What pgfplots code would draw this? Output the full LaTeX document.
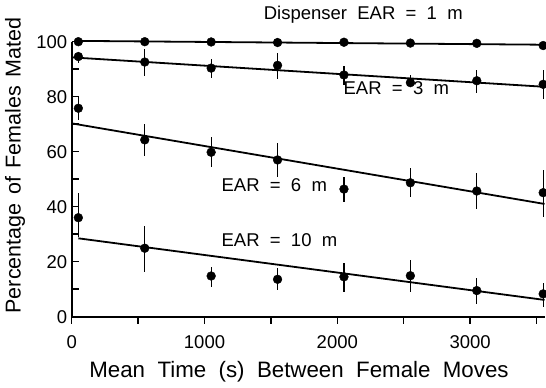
\documentclass[border=0pt]{standalone}
\usepackage{fontspec}
\setmainfont{Liberation Sans}[WordSpace=2]
\usepackage{pgfplots}
\pgfplotsset{compat=1.18}
\pgfplotstableread{
x y ep em
50 94.6 1.8 2.5
550 92.6 4.6 5.1
1050 90.4 3.2 3.5
1550 91.4 4.6 5.1
2050 87.9 3.3 3.6
2550 85.1 2.8 1.7
3050 85.8 3.9 4.3
3550 84.5 5.2 5.4
}\earthree
\pgfplotstableread{
x y ep em
50 75.8 4.2 4.3
550 64.3 5.7 5.9
1050 59.8 5.7 5.3
1550 57.0 6.3 6.3
2050 46.4 4.5 4.6
2550 48.7 5.3 5.1
3050 45.7 6.7 6.7
3550 45.1 8.2 8.7
}\earsix
\pgfplotstableread{
x y ep em
50 36.0 8.8 7.0
550 24.9 8.1 8.5
1050 14.8 3.4 3.9
1550 13.6 4.0 3.9
2050 14.5 5.1 5.4
2550 14.9 5.7 5.8
3050 9.5 4.5 4.9
3550 8.3 4.1 4.7
}\earten
\pgfplotstableread{
x y
50 100.0
550 100.0
1050 99.9
1550 99.7
2050 99.8
2550 99.5
3050 99.4
3550 98.6
}\earone
\begin{document}
\begin{tikzpicture}[x=1pt,y=1pt]
\useasboundingbox (0,0) rectangle (546,388);
\begin{axis}[
  at={(71.7pt,71.3pt)}, anchor=origin,
  scale only axis, width=472.8pt, height=275pt,
  xmin=0, xmax=3560, ymin=0, ymax=100,
  axis lines*=left,
  axis line style={line width=1.8pt},
  xtick={0,1000,2000,3000}, minor xtick={500,1500,2500,3500},
  ytick={0,20,...,100}, minor ytick={10,30,...,90},
  xtick align=outside, ytick align=inside,
  major tick length=7pt, minor tick length=7pt,
  every tick/.style={line width=1.5pt, black},
  tick label style={font=\fontsize{18.5}{20}\selectfont},
  xticklabel style={yshift=-8pt},
  yticklabel style={xshift=-1pt},
  /pgf/number format/assume math mode=true,
  /pgf/number format/1000 sep={},
  clip=false,
]
\addplot[black, line width=1.8pt] coordinates {(30,100.3) (3560,98.9)};
\addplot[black, line width=1.8pt] coordinates {(0,94.3) (3560,83.6)};
\addplot[black, line width=1.8pt] coordinates {(0,70.3) (3560,41.0)};
\addplot[black, line width=1.8pt] coordinates {(50,28.5) (3560,6.1)};
\addplot[only marks, mark=*, mark size=4.4pt, black] table[x=x,y=y]{\earone};
\addplot[only marks, mark=*, mark size=4.4pt, black,
  error bars/.cd, y dir=both, y explicit, error mark=none,
  error bar style={line width=1.3pt}]
  table[x=x,y=y,y error plus=ep,y error minus=em]{\earthree};
\addplot[only marks, mark=*, mark size=4.4pt, black,
  error bars/.cd, y dir=both, y explicit, error mark=none,
  error bar style={line width=1.3pt}]
  table[x=x,y=y,y error plus=ep,y error minus=em]{\earsix};
\addplot[only marks, mark=*, mark size=4.4pt, black,
  error bars/.cd, y dir=both, y explicit, error mark=none,
  error bar style={line width=1.3pt}]
  table[x=x,y=y,y error plus=ep,y error minus=em]{\earten};
\node[anchor=west, inner sep=0pt, font=\fontsize{18.5}{20}\selectfont] at (axis cs:1445,109.7) {Dispenser EAR = 1 m};
\node[anchor=west, inner sep=0pt, font=\fontsize{18.5}{20}\selectfont] at (axis cs:2046,83) {EAR = 3 m};
\node[anchor=west, inner sep=0pt, font=\fontsize{18.5}{20}\selectfont] at (axis cs:1127,47.9) {EAR = 6 m};
\node[anchor=west, inner sep=0pt, font=\fontsize{18.5}{20}\selectfont] at (axis cs:1127,27.9) {EAR = 10 m};
\end{axis}
\node[font=\fontsize{22.3}{24}\selectfont] at (299,16) {Mean Time (s) Between Female Moves};
\node[rotate=90, inner sep=0pt, font=\fontsize{21.5}{24}\selectfont] at (15,222.5) {\spaceskip=0.4em\relax Percentage of Females Mated};
\end{tikzpicture}
\end{document}
